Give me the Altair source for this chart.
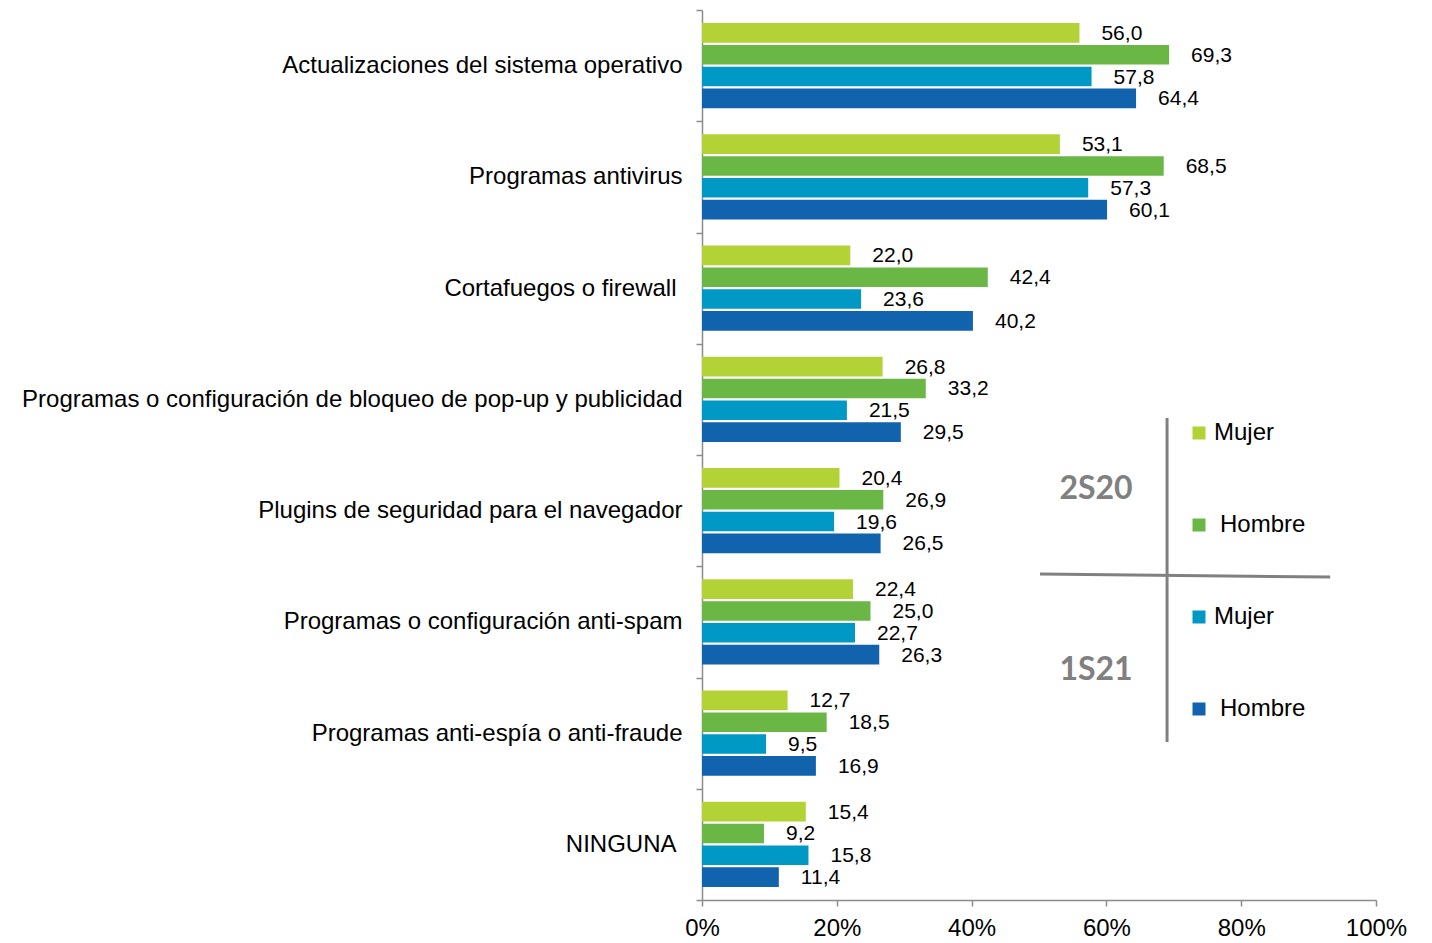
import altair as alt
import pandas as pd

PAD = "\u2005\u200b"
LPAD = "\u200b\u2005"
categories = [
    "Actualizaciones del sistema operativo",
    "Programas antivirus",
    "Cortafuegos o firewall" + PAD,
    "Programas o configuración de bloqueo de pop-up y publicidad",
    "Plugins de seguridad para el navegador",
    "Programas o configuración anti-spam",
    "Programas anti-espía o anti-fraude",
    "NINGUNA" + PAD,
]
series = ["Mujer 2S20", "Hombre 2S20", "Mujer 1S21", "Hombre 1S21"]
colors = ["#b2d235", "#6ab746", "#0098c4", "#1263ae"]

mujer_2s20 = [56.0, 53.1, 22.0, 26.8, 20.4, 22.4, 12.7, 15.4]
hombre_2s20 = [69.3, 68.5, 42.4, 33.2, 26.9, 25.0, 18.5, 9.2]
mujer_1s21 = [57.8, 57.3, 23.6, 21.5, 19.6, 22.7, 9.5, 15.8]
hombre_1s21 = [64.4, 60.1, 40.2, 29.5, 26.5, 26.3, 16.9, 11.4]

x_ticks = [0, 20, 40, 60, 80, 100]

rows = []
for s, vals in zip(series, [mujer_2s20, hombre_2s20, mujer_1s21, hombre_1s21]):
    for c, v in zip(categories, vals):
        rows.append({"cat": c, "serie": s, "v": v})
df = pd.DataFrame(rows)

FONT = "Liberation Sans, Arial, sans-serif"
GRAY = "#8c8c8c"

y_enc = alt.Y(
    "cat:N",
    sort=categories,
    scale=alt.Scale(paddingInner=0, paddingOuter=0),
    axis=alt.Axis(
        title=None,
        tickBand="extent",
        tickSize=6,
        tickColor=GRAY,
        domainColor=GRAY,
        domainWidth=1.5,
        tickWidth=1.5,
        labelFont=FONT,
        labelFontSize=24,
        labelColor="#000000",
        labelPadding=14,
        labelLimit=1000,
    ),
)
yoff_enc = alt.YOffset(
    "serie:N", sort=series, scale=alt.Scale(paddingInner=0.1, paddingOuter=0.6)
)
x_scale = alt.Scale(domain=[0, 100], nice=False)

legend = alt.Legend(
    title=None,
    orient="none",
    legendX=485,
    legendY=411,
    padding=0,
    symbolType="square",
    symbolSize=169,
    symbolStrokeWidth=0,
    labelFont=FONT,
    labelFontSize=24,
    labelColor="#000000",
    labelOffset=3,
    rowPadding=68,
    labelExpr="indexof(datum.label,'Hombre')>=0 ? '" + LPAD + "Hombre' : 'Mujer'",
)

bars = alt.Chart(df).mark_bar().encode(
    x=alt.X(
        "v:Q",
        scale=x_scale,
        axis=alt.Axis(
            title=None,
            values=x_ticks,
            labelExpr="datum.value + '%'",
            grid=False,
            tickSize=6,
            tickColor=GRAY,
            domainColor=GRAY,
            domainWidth=1.5,
            tickWidth=1.5,
            labelFont=FONT,
            labelFontSize=24,
            labelColor="#000000",
            labelPadding=10,
            labelFlush=False,
        ),
    ),
    y=y_enc,
    yOffset=yoff_enc,
    color=alt.Color(
        "serie:N", sort=series, scale=alt.Scale(domain=series, range=colors), legend=legend
    ),
)

labels = (
    alt.Chart(df)
    .transform_calculate(lab="replace(format(datum.v, '.1f'), '.', ',')")
    .mark_text(align="left", baseline="middle", dx=22, dy=1, font=FONT, fontSize=21, color="#000000")
    .encode(
        x=alt.X("v:Q", scale=x_scale),
        y=alt.Y("cat:N", sort=categories),
        yOffset=alt.YOffset("serie:N", sort=series),
        text="lab:N",
    )
)

ann_color = "#808080"
vline = alt.Chart(pd.DataFrame({"a": [0]})).mark_rule(color=ann_color, strokeWidth=3).encode(
    x=alt.datum(69.0), y=alt.value(408), y2=alt.value(732)
)
hline = alt.Chart(pd.DataFrame({"a": [0]})).mark_rule(color=ann_color, strokeWidth=3).encode(
    x=alt.datum(50.15), x2=alt.datum(93.2), y=alt.value(564), y2=alt.value(567)
)
period_labels = ["2S20", "1S21"]
period_y = [479, 660]
ptext = pd.DataFrame({"t": period_labels, "py": period_y})
periods = alt.Chart(ptext).mark_text(
    font="Lato, Open Sans, sans-serif", fontSize=32, fontWeight="bold", color=ann_color,
    align="center", baseline="middle",
).encode(x=alt.datum(58.46), y=alt.Y("py:Q", scale=None), text="t:N")

chart = (
    alt.layer(bars, labels, vline, hline, periods)
    .properties(
        width=674,
        height=890,
        autosize=alt.AutoSizeParams(type="none"),
        padding={"left": 694, "top": 2, "right": 40, "bottom": 40},
    )
    .configure_view(stroke=None)
)

chart.save("out.html", embed_options={"renderer": "svg", "actions": False})
